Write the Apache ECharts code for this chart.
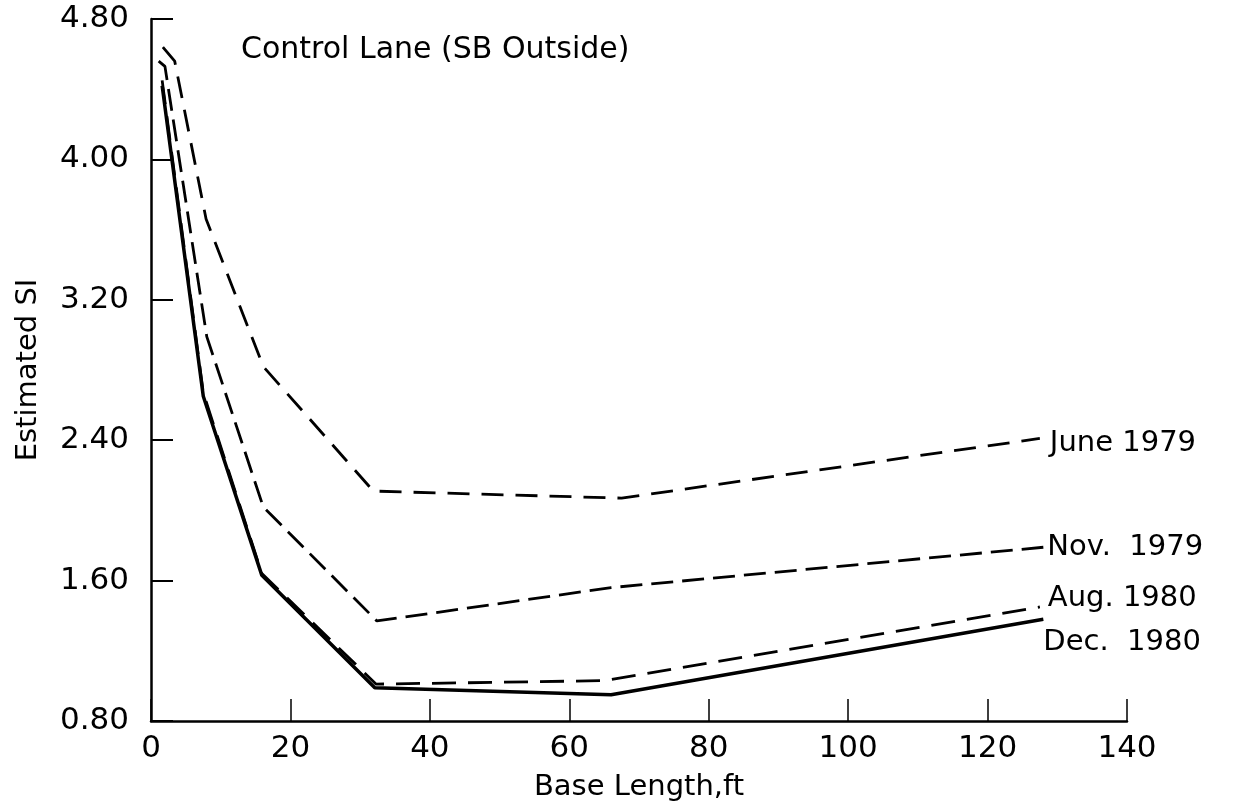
<!DOCTYPE html>
<html>
<head>
<meta charset="utf-8">
<script src="https://cdn.jsdelivr.net/npm/echarts@6/dist/echarts.min.js"></script>
<style>html,body{margin:0;padding:0;background:#fff;}#c{width:1233px;height:807px;}</style>
</head>
<body>
<div id="c"></div>
<script>
const xTicks = [0, 20, 40, 60, 80, 100, 120, 140];
const yTicks = [0.80, 1.60, 2.40, 3.20, 4.00, 4.80];

const juneX = [1.7, 3.4, 7.9, 16.1, 31.9, 67.5, 127.5];
const juneY = [4.64, 4.56, 3.66, 2.82, 2.11, 2.07, 2.41];

const novX = [1.1, 2.0, 8.0, 16.1, 32.4, 66, 128];
const novY = [4.56, 4.53, 2.99, 2.02, 1.37, 1.56, 1.79];

const augX = [1.6, 7.5, 15.9, 32.3, 65, 127.5];
const augY = [4.45, 2.67, 1.64, 1.01, 1.03, 1.45];

const decX = [1.6, 7.5, 15.9, 32.1, 66, 128];
const decY = [4.42, 2.65, 1.63, 0.99, 0.95, 1.38];

const seriesNames = ['June 1979', 'Nov.  1979', 'Aug. 1980', 'Dec.  1980'];
const titleText = 'Control Lane (SB Outside)';
const xName = 'Base Length,ft';
const yName = 'Estimated SI';

const FONT = 'DejaVu Sans';
const zip = (xs, ys) => xs.map((x, i) => [x, ys[i]]);

function mk(name, xs, ys, type, width, dash, offset) {
  return {
    type: 'line', name: name, data: zip(xs, ys),
    symbol: 'none', animation: false,
    lineStyle: { color: '#000', width: width, type: type === 'solid' ? 'solid' : dash },
    endLabel: { show: true, formatter: name, color: '#000', fontFamily: FONT, fontSize: 29,
      distance: 6, offset: offset }
  };
}

const chart = echarts.init(document.getElementById('c'));
chart.setOption({
  backgroundColor: '#fff',
  animation: false,
  title: { text: titleText, left: 236, top: 30,
    textStyle: { fontFamily: FONT, fontSize: 30, fontWeight: 'normal', color: '#000' } },
  grid: { left: 151, right: 106, top: 19, bottom: 85 },
  xAxis: {
    type: 'value', min: 0, max: 140, interval: 20,
    name: xName, nameLocation: 'middle', nameGap: 52,
    nameTextStyle: { fontFamily: FONT, fontSize: 29, color: '#000' },
    axisLine: { lineStyle: { color: '#000', width: 2.5 } },
    axisTick: { inside: true, length: 22, lineStyle: { color: '#000', width: 1.5 } },
    axisLabel: { fontFamily: FONT, fontSize: 31, color: '#000', margin: 12,
      formatter: v => xTicks.includes(v) ? String(v) : '' },
    splitLine: { show: false }
  },
  yAxis: {
    type: 'value', min: 0.8, max: 4.8, interval: 0.8,
    name: yName, nameLocation: 'middle', nameGap: 108, nameRotate: 90,
    nameTextStyle: { fontFamily: FONT, fontSize: 29, color: '#000' },
    axisLine: { show: true, lineStyle: { color: '#000', width: 2.5 } },
    axisTick: { show: true, inside: true, length: 22, lineStyle: { color: '#000', width: 2 } },
    axisLabel: { fontFamily: FONT, fontSize: 31, color: '#000', margin: 22,
      formatter: v => { const t = yTicks.find(k => Math.abs(k - v) < 1e-6); return t === undefined ? '' : t.toFixed(2); } },
    splitLine: { show: false }
  },
  series: [
    mk(seriesNames[0], juneX, juneY, 'dashed', 2.8, [22, 12], [4, 5]),
    mk(seriesNames[1], novX, novY, 'dashed', 2.8, [22, 9], [-2, 0]),
    mk(seriesNames[2], augX, augY, 'dashed', 2.8, [24, 12], [2, -8]),
    mk(seriesNames[3], decX, decY, 'solid', 3.5, null, [-6, 23])
  ]
});
</script>
</body>
</html>
